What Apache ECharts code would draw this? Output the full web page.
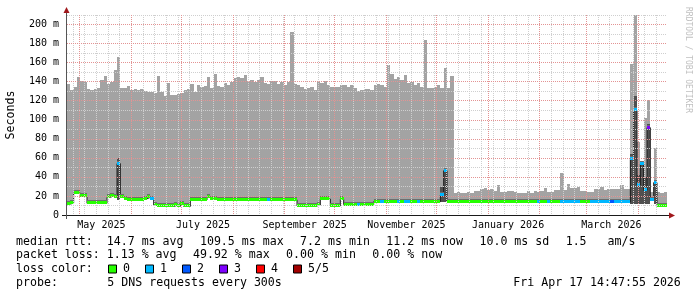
<!DOCTYPE html>
<html><head><meta charset="utf-8">
<script src="https://cdn.jsdelivr.net/npm/echarts@6/dist/echarts.min.js"></script>
<style>html,body{margin:0;padding:0;background:#fff}#c{width:697px;height:297px}</style>
</head><body><div id="c"></div>
<script>
// ---------- data ----------
const DAY = 86400000;
const viewStart = Date.UTC(2025, 3, 23, 9, 0);   // left edge of the plot
const viewDays = 360;
const bucketDays = 2;                              // one value per 2 days

// top of the smoke (max rtt, ms) per bucket
const smokeMax = [
 138,131,134,145,141,140,132,131,132,133,
 142,146,138,140,152,166,133,133,135,131,
 132,131,132,130,129,129,128,146,129,125,
 139,126,126,127,128,131,132,138,129,136,
 134,135,145,133,148,135,134,139,137,140,
 144,145,144,147,141,142,140,142,145,139,
 138,141,141,138,140,137,140,192,138,137,
 134,132,133,134,131,141,139,141,137,134,
 134,134,136,136,134,136,133,130,131,132,
 132,131,136,138,137,134,157,148,143,145,
 142,147,139,140,137,139,134,184,133,133,
 134,137,133,154,133,146,23,24,23.5,23,
 24,23,25.5,25.5,27,28,26,27,25.5,31.5,
 24.5,24.5,25.5,25,24.5,23,23,23.5,25,23,
 25,24.5,25,28.7,24.5,24.5,26,26,44,26,
 32.5,28,28,29,25.5,25.5,24.5,24.5,27,27,
 29.6,26,27,27,27,27,31.5,27,27,159,
 210,77,54,102,121,24,70,24,23,24
];
// median rtt (ms) per bucket
const medianRtt = [
 11.5,12.5,23,23,20,20,12.3,12.3,12.3,12.3,
 12.3,12.3,18.6,20,18.5,54,18.6,16.5,16,16,
 16,16,16,17,18.5,17,10.5,9,9,9,
 9,9,10,9,11.5,9,9,15.8,15.8,15.8,
 15.8,15.8,18.5,16.5,16.5,15.8,15.8,15.8,15.8,15.8,
 15.8,15.8,15.8,15.8,15.8,15.8,15.8,15.8,15.8,15.8,
 15.8,16,16,16,16,16,16,16,16,9.5,
 9.5,9.5,9.5,9.5,9.5,10.5,16.8,16.8,16.8,9.5,
 9.5,9.5,16.8,11,10.5,10.5,10.5,10.5,10.5,10.5,
 10.5,10.5,14,14,14,14,14,14,14,14,
 14,14,14,14,14,14,14,14,14,14,
 14,14,21,46.5,14,14,13.5,13.5,13.5,13.5,
 13.5,13.5,13.5,13.5,13.5,13.5,13.5,13.5,13.5,13.5,
 13.5,13.5,13.5,13.5,13.5,13.5,13.5,13.5,13.5,13.5,
 13.5,13.5,13.5,13.5,13.5,13.5,13.5,13.5,13.5,13.5,
 13.5,13.5,13.5,13.5,13.5,13.5,13.5,13.5,13.5,13.5,
 13.5,13.5,13.5,13.5,13.5,13.5,13.5,13.5,13.5,58.5,
 110,31.5,53.5,26,91.7,15.8,34,9,9,9
];
// lost pings (of 5) per bucket
const lostPings = [
 0,0,0,0,0,0,0,0,0,0,
 0,0,0,0,0,1,0,0,0,0,
 0,0,0,0,0,1,0,0,0,0,
 0,0,0,0,0,0,0,0,0,0,
 0,0,0,0,0,0,0,0,0,0,
 0,0,0,0,0,0,0,0,0,0,
 1,0,0,0,0,0,0,0,0,0,
 0,0,0,0,0,0,0,0,0,0,
 0,0,0,0,0,0,0,1,0,0,
 0,0,0,0,1,0,0,0,0,1,
 0,1,1,0,0,1,0,0,0,0,
 0,0,1,1,0,0,0,0,0,0,
 0,0,0,0,0,0,0,0,0,0,
 0,0,0,0,0,0,0,0,0,0,
 0,1,0,0,1,0,0,0,1,1,
 1,1,1,1,0,0,0,1,1,1,
 1,1,1,2,1,1,1,1,1,1,
 1,1,1,1,3,1,1,0,0,0
];
// dense (dark) smoke around the spikes: bucket index, low ms, high ms
const denseBucket = [15, 42, 112, 113, 169, 170, 171, 172, 173, 174, 176];
const denseLow    = [16, 18, 14, 14, 12, 12, 12, 12, 12, 12, 12];
const denseHigh   = [59.5, 22, 29, 48, 64, 125, 42, 56, 40, 96, 36];

const lossNames  = ['0', '1', '2', '3', '4', '5/5'];
const lossColors = ['#26ff00', '#00b8ff', '#0059ff', '#7e00ff', '#ff0000', '#a10000'];

const yMax = 210;
const yLabelValues = [0,20,40,60,80,100,120,140,160,180,200];
const yMinorValues = [10,30,50,70,90,110,130,150,170,190,210];
const monthStarts = [
 [2025,4],[2025,5],[2025,6],[2025,7],[2025,8],[2025,9],[2025,10],[2025,11],
 [2026,0],[2026,1],[2026,2],[2026,3]
];
const xLabelText = ['May 2025','July 2025','September 2025','November 2025','January 2026','March 2026'];
const xLabelDates = [[2025,4,14],[2025,6,14],[2025,8,13],[2025,10,13],[2026,0,13],[2026,2,16]];

const statItems = [
 ['median rtt:  14.7 ms avg', '109.5 ms max', '7.2 ms min', '11.2 ms now', '10.0 ms sd', '1.5   am/s'],
 ['packet loss: 1.13 % avg', '49.92 % max', '0.00 % min', '0.00 % now']
];
const lossLabel = 'loss color:';
const probeLabel = 'probe:';
const probeText = '5 DNS requests every 300s';
const stampText = 'Fri Apr 17 14:47:55 2026';

// ---------- build ----------
const viewEnd = viewStart + viewDays * DAY;
const tOf = i => viewStart + i * bucketDays * DAY;
const monthTicks = monthStarts.map(m => Date.UTC(m[0], m[1], 1));
const weekTicks = [];
for (let t = Date.UTC(2025, 3, 27); t < viewEnd; t += 7 * DAY) weekTicks.push(t);
const xLabelTimes = xLabelDates.map(d => Date.UTC(d[0], d[1], d[2]));

const smokeData = smokeMax.map((v, i) => [tOf(i), tOf(i + 1), medianRtt[i], Math.min(v, yMax)]);
const denseData = denseBucket.map((b, k) => [tOf(b), tOf(b + 1), denseLow[k], denseHigh[k]]);
const bandData = medianRtt.map((v, i) => [tOf(i), tOf(i + 1), v, lostPings[i]]);
const stepData = medianRtt.map((v, i) => [tOf(i), v]);
stepData.push([tOf(medianRtt.length), medianRtt[medianRtt.length - 1]]);

const MONO = 'DejaVu Sans Mono';
const LEG_FONT = '11.6px "' + MONO + '"';
const measureCtx = document.createElement('canvas').getContext('2d');
measureCtx.font = LEG_FONT;
const textW = s => measureCtx.measureText(s).width;

function rectItem(color) {
  return function (params, api) {
    const a = api.coord([api.value(0), api.value(3)]);
    const b = api.coord([api.value(1), api.value(2)]);
    const x0 = Math.round(a[0]), x1 = Math.round(b[0]);
    const y0 = Math.round(a[1]), y1 = Math.round(b[1]);
    return { type: 'rect', shape: { x: x0, y: y0, width: x1 - x0, height: y1 - y0 }, style: { fill: color } };
  };
}

const chart = echarts.init(document.getElementById('c'), null, { renderer: 'canvas' });

const graphics = [];
const txt = (s, x, y, extra) => Object.assign({ type: 'text', x: x, y: y, z: 100,
  style: { text: s, font: LEG_FONT, fill: '#000', align: 'left', verticalAlign: 'middle' } }, extra || {});
// axis lines + arrows
graphics.push({ type: 'line', shape: { x1: 62, y1: 215.5, x2: 670, y2: 215.5 }, style: { stroke: '#1a1a1a', lineWidth: 1 }, z: 100 });
graphics.push({ type: 'line', shape: { x1: 66.5, y1: 219, x2: 66.5, y2: 11 }, style: { stroke: '#555555', lineWidth: 1 }, z: 100 });
graphics.push({ type: 'polygon', shape: { points: [[63.5, 13], [69.5, 13], [66.5, 7]] }, style: { fill: '#a0181c' }, z: 101 });
graphics.push({ type: 'polygon', shape: { points: [[669, 212.5], [669, 218.5], [675, 215.5]] }, style: { fill: '#a0181c' }, z: 101 });
// titles
graphics.push({ type: 'text', x: 11, y: 115, rotation: Math.PI / 2, z: 100,
  style: { text: 'Seconds', font: LEG_FONT, fill: '#000', align: 'center', verticalAlign: 'middle' } });
graphics.push({ type: 'text', x: 688, y: 60, rotation: -Math.PI / 2, z: 100,
  style: { text: 'RRDTOOL / TOBI OETIKER', font: '8px "' + MONO + '"', fill: '#c0c0c0', align: 'center', verticalAlign: 'middle' } });
// stats lines: items left to right with a fixed gap
const rowY = [241.5, 255, 268.8, 282.5];
const LEG_GAP = 16.4;
statItems.forEach((items, r) => {
  let x = 16;
  items.forEach(s => { graphics.push(txt(s, x, rowY[r])); x += textW(s) + LEG_GAP; });
});
graphics.push(txt(lossLabel, 16, rowY[2]));
lossNames.forEach((n, k) => {
  const bx = 108.5 + k * 37;
  graphics.push({ type: 'rect', shape: { x: bx, y: 265, width: 8, height: 8 }, style: { fill: lossColors[k], stroke: '#000', lineWidth: 1 }, z: 100 });
  graphics.push(txt(n, bx + 14.5, rowY[2]));
});
graphics.push(txt(probeLabel, 16, rowY[3]));
graphics.push(txt(probeText, 107.3, rowY[3]));
graphics.push(txt(stampText, 513.3, rowY[3]));

const minorGrid = { show: true, lineStyle: { color: '#cfcfcf', width: 1, type: [1, 1] } };
const majorGrid = { show: true, lineStyle: { color: '#e39393', width: 1, type: [1, 1] } };

chart.setOption({
  animation: false,
  backgroundColor: '#ffffff',
  grid: { left: 67, right: 30, top: 15, bottom: 82 },
  xAxis: [
    { type: 'value', min: viewStart, max: viewEnd, position: 'bottom', z: 5,
      axisLine: { show: false }, axisTick: { show: false, customValues: weekTicks },
      axisLabel: { show: true, customValues: xLabelTimes, margin: 5,
        formatter: v => { const k = xLabelTimes.indexOf(v); return k >= 0 ? xLabelText[k] : ''; },
        fontFamily: MONO, fontSize: 10, color: '#000' },
      splitLine: minorGrid },
    { type: 'value', min: viewStart, max: viewEnd, position: 'top', z: 6,
      axisLine: { show: false }, axisTick: { show: false, customValues: monthTicks },
      axisLabel: { show: false }, splitLine: majorGrid }
  ],
  yAxis: [
    { type: 'value', min: 0, max: yMax, interval: 10, position: 'left', z: 6,
      axisLine: { show: false }, axisTick: { show: false, customValues: yLabelValues },
      axisLabel: { show: true, customValues: yLabelValues, margin: 8, fontFamily: MONO, fontSize: 10, color: '#000',
        formatter: v => v === 0 ? '0' : v + ' m' },
      splitLine: majorGrid },
    { type: 'value', min: 0, max: yMax, interval: 10, position: 'right', z: 5,
      axisLine: { show: false }, axisTick: { show: false, customValues: yMinorValues },
      axisLabel: { show: false }, splitLine: minorGrid }
  ],
  series: [
    { type: 'custom', name: 'smoke', xAxisIndex: 0, yAxisIndex: 0, z: 1, silent: true,
      encode: { x: [0, 1], y: [2, 3] }, data: smokeData, renderItem: rectItem('#a3a3a3') },
    { type: 'custom', name: 'dense', xAxisIndex: 0, yAxisIndex: 0, z: 2, silent: true,
      encode: { x: [0, 1], y: [2, 3] }, data: denseData, renderItem: rectItem('#505050') },
    { type: 'line', name: 'median', xAxisIndex: 0, yAxisIndex: 0, z: 3, step: 'end', symbol: 'none', silent: true,
      lineStyle: { color: '#1c1c1c', width: 1 }, data: stepData },
    { type: 'custom', name: 'loss', xAxisIndex: 0, yAxisIndex: 0, z: 4, silent: true,
      encode: { x: [0, 1], y: 2 }, data: bandData,
      renderItem: (params, api) => {
        const a = api.coord([api.value(0), api.value(2)]);
        const b = api.coord([api.value(1), api.value(2)]);
        const x0 = Math.round(a[0]), x1 = Math.round(b[0]);
        const y = Math.round(a[1]);
        return { type: 'group', children: [
          { type: 'rect', shape: { x: x0, y: y - 3, width: x1 - x0, height: 1 }, style: { fill: '#6e6e6e' } },
          { type: 'rect', shape: { x: x0, y: y - 2, width: x1 - x0, height: 3 }, style: { fill: lossColors[api.value(3)] } }
        ] };
      } }
  ],
  graphic: graphics
});
</script>
</body></html>
